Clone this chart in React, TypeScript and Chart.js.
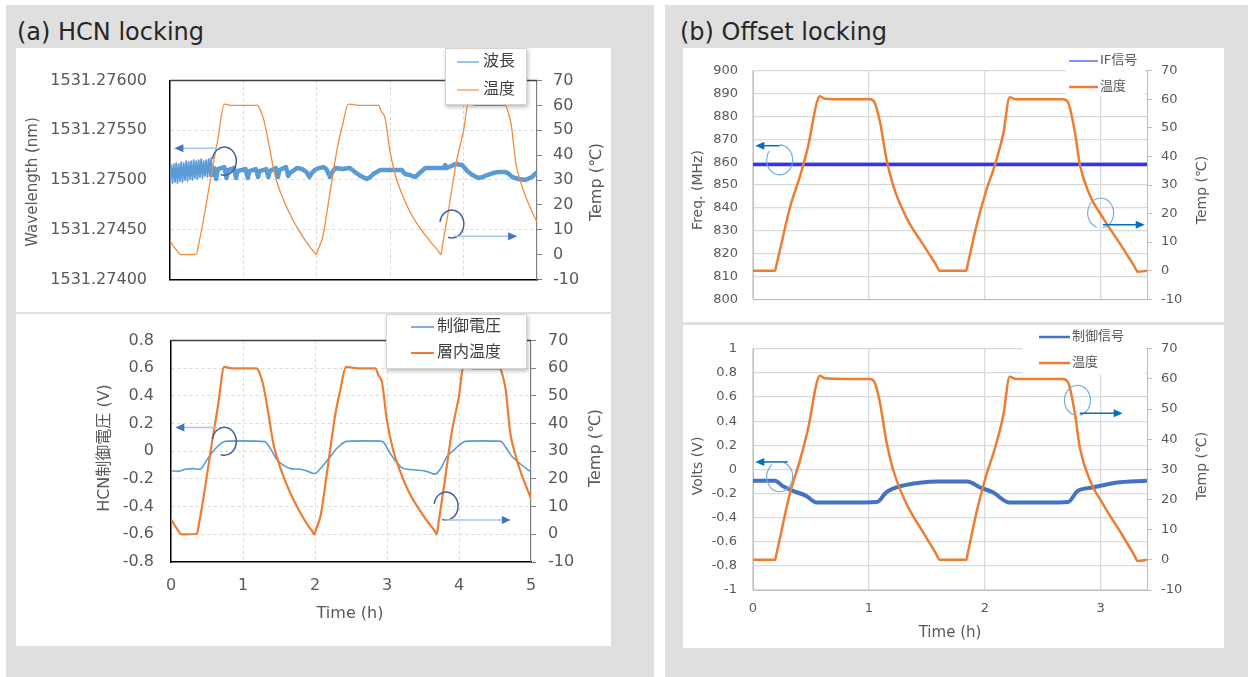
import React, { useEffect, useRef } from 'react';
import { Chart, registerables } from 'chart.js';

Chart.register(...registerables);

const FONT = "'DejaVu Sans', 'Noto Sans CJK JP', sans-serif";

// ================= (a) HCN locking =================
const hcnTimeTicks = [0, 1, 2, 3, 4, 5];
const wavelengthTicks = [1531.274, 1531.2745, 1531.275, 1531.2755, 1531.276];
const tempTicks = [-10, 0, 10, 20, 30, 40, 50, 60, 70];
const hcnVoltTicks = [-0.8, -0.6, -0.4, -0.2, 0, 0.2, 0.4, 0.6, 0.8];

const hcnTopLegend = ['波長', '温度'];
const hcnBottomLegend = ['制御電圧', '層内温度'];

const wavelengthTime = [
  0, 0.017, 0.034, 0.051, 0.068, 0.085, 0.102, 0.119, 0.136, 0.153, 0.17, 0.187, 0.204, 0.221, 0.238,
  0.255, 0.272, 0.289, 0.306, 0.323, 0.34, 0.357, 0.374, 0.391, 0.408, 0.425, 0.442, 0.459, 0.476,
  0.493, 0.51, 0.527, 0.544, 0.561, 0.578,
  0.6, 0.63, 0.65, 0.74, 0.77, 0.79, 0.87, 0.9, 0.92, 1.03, 1.06, 1.08, 1.17, 1.2, 1.22, 1.31, 1.34,
  1.36, 1.44, 1.47, 1.49, 1.58, 1.61, 1.63,
  1.73, 1.8, 1.86, 1.9, 1.93, 1.97, 2.03, 2.09, 2.13, 2.18, 2.22, 2.25, 2.35, 2.45, 2.52, 2.6, 2.68,
  2.73, 2.77, 2.86, 3.0, 3.16, 3.2, 3.27, 3.34, 3.4, 3.48, 3.6, 3.73, 3.75, 3.77, 3.89, 3.98, 4.05,
  4.12, 4.2, 4.26, 4.32, 4.4, 4.48, 4.57, 4.62, 4.66, 4.75, 4.84, 4.93, 5.0,
];
const wavelengthValues = [
  1531.275, 1531.27515, 1531.27497, 1531.27516, 1531.27498, 1531.27517, 1531.27497, 1531.27516,
  1531.27499, 1531.27518, 1531.27498, 1531.27517, 1531.275, 1531.27519, 1531.27499, 1531.27518,
  1531.27501, 1531.27519, 1531.275, 1531.2752, 1531.27502, 1531.27519, 1531.27501, 1531.2752,
  1531.27503, 1531.27521, 1531.27502, 1531.27519, 1531.27504, 1531.2752, 1531.27503, 1531.27521,
  1531.27504, 1531.27522, 1531.27503,
  1531.27512, 1531.27501, 1531.27511, 1531.27513, 1531.27502, 1531.2751, 1531.27512, 1531.27502,
  1531.27509, 1531.27511, 1531.27502, 1531.27509, 1531.27511, 1531.27503, 1531.27509, 1531.27511,
  1531.27503, 1531.27509, 1531.27512, 1531.27503, 1531.2751, 1531.27513, 1531.27504, 1531.27507,
  1531.27512, 1531.27511, 1531.27508, 1531.27503, 1531.27507, 1531.2751, 1531.27512, 1531.27513,
  1531.27511, 1531.27503, 1531.27509, 1531.27512, 1531.27511, 1531.27512, 1531.27508, 1531.27504,
  1531.27501, 1531.27503, 1531.27506, 1531.2751, 1531.2751, 1531.2751, 1531.27506, 1531.27505,
  1531.27503, 1531.27507, 1531.27512, 1531.27512, 1531.27512, 1531.27515, 1531.27512, 1531.27516,
  1531.27515, 1531.27509, 1531.27505, 1531.27502, 1531.27503, 1531.27505, 1531.27507, 1531.27508,
  1531.27508, 1531.27506, 1531.27503, 1531.27501, 1531.275, 1531.27503, 1531.27508,
];

const hcnTempTime = [
  0, 0.07, 0.15, 0.36, 0.39, 0.45, 0.55, 0.65, 0.74, 0.85, 1.0, 1.19, 1.24, 1.28, 1.35, 1.42, 1.47,
  1.56, 1.655, 1.75, 1.84, 1.92, 1.96, 1.99, 2.02, 2.08, 2.17, 2.28, 2.35, 2.43, 2.6, 2.84, 2.88, 2.93,
  3.0, 3.08, 3.18, 3.3, 3.46, 3.58, 3.66, 3.69, 3.72, 3.79, 3.9, 4.0, 4.06, 4.2, 4.57, 4.61, 4.65,
  4.71, 4.78, 4.85, 4.93, 5.0,
];
const hcnTempValues = [
  5.5, 2.5, 0, 0.2, 4, 13, 30, 46, 60.5, 60, 60, 60, 57.5, 54, 44, 33, 28, 21, 15, 10, 5.8, 2.5, 1.2,
  0, 2.2, 7, 23, 43, 52, 60.5, 60, 60, 57.5, 55, 41, 31, 23, 15.5, 8.5, 4, 1.3, 0, 5, 17, 37, 50,
  60.5, 60, 60, 57, 52, 37, 29, 23, 17.5, 13,
];

const hcnVoltTime = [
  0, 0.1, 0.2, 0.3, 0.4, 0.5, 0.6, 0.68, 0.75, 1.0, 1.3, 1.38, 1.47, 1.56, 1.66, 1.8, 1.9, 1.98, 2.03,
  2.1, 2.21, 2.3, 2.44, 2.7, 2.93, 3.05, 3.15, 3.23, 3.4, 3.55, 3.67, 3.75, 3.83, 3.95, 4.09, 4.3,
  4.58, 4.66, 4.74, 4.85, 5.0,
];
const hcnVoltValues = [
  -0.14, -0.145, -0.13, -0.125, -0.13, -0.06, 0.01, 0.05, 0.072, 0.075, 0.07, 0.02, -0.06, -0.1,
  -0.125, -0.13, -0.145, -0.16, -0.15, -0.11, -0.04, 0.02, 0.072, 0.075, 0.072, -0.02, -0.09, -0.125,
  -0.135, -0.145, -0.165, -0.12, -0.04, 0.02, 0.072, 0.075, 0.072, 0.02, -0.04, -0.09, -0.15,
];

// ================= (b) Offset locking =================
const offTimeTicks = [0, 1, 2, 3];
const freqTicks = [800, 810, 820, 830, 840, 850, 860, 870, 880, 890, 900];
const offVoltTicks = [-1, -0.8, -0.6, -0.4, -0.2, 0, 0.2, 0.4, 0.6, 0.8, 1];

const offTopLegend = ['IF信号', '温度'];
const offBottomLegend = ['制御信号', '温度'];

const offTempTime = [
  0, 0.19, 0.2, 0.233, 0.32, 0.405, 0.477, 0.55, 0.578, 0.62, 0.8, 1.01, 1.05, 1.095, 1.15, 1.21,
  1.325, 1.47, 1.58, 1.61, 1.84, 1.855, 1.93, 2.01, 2.09, 2.16, 2.215, 2.27, 2.5, 2.675, 2.72, 2.78,
  2.82, 2.905, 3.02, 3.19, 3.29, 3.32, 3.4,
];
const offTempValues = [
  0, 0, 1.5, 7.3, 22.3, 33, 43.8, 58.8, 61.1, 60.2, 60, 60, 58.8, 52.3, 39.5, 29.8, 18.5, 9, 2, 0, 0,
  2.5, 16, 27.7, 37.3, 48, 60.7, 60, 60, 60, 58.8, 48, 37.3, 26.6, 18.5, 8, 1.6, -0.4, 0,
];

const offIfTime = [0, 1, 2, 3, 3.4];
const offIfValues = [859, 859, 859, 859, 859];

const offCtrlTime = [
  0, 0.19, 0.26, 0.35, 0.46, 0.55, 0.8, 1.07, 1.15, 1.27, 1.44, 1.61, 1.85, 1.96, 2.07, 2.215, 2.5,
  2.72, 2.8, 2.93, 3.13, 3.4,
];
const offCtrlValues = [
  -0.095, -0.095, -0.14, -0.18, -0.22, -0.275, -0.275, -0.27, -0.19, -0.14, -0.11, -0.1, -0.1, -0.15,
  -0.19, -0.275, -0.275, -0.27, -0.18, -0.15, -0.11, -0.094,
];

// ================= helpers =================
const pts = (t: number[], v: number[]) => t.map((x, i) => ({ x, y: v[i] }));
const fmt1 = (v: number) => {
  const r = Math.round(v * 10) / 10;
  return r === 0 ? '0' : String(r);
};

function decorPlugin(d: any) {
  return {
    id: 'decor',
    beforeDatasetsDraw(chart: any) {
      if (!d.topBorder) return;
      const { ctx, chartArea: a } = chart;
      ctx.save();
      ctx.strokeStyle = d.topBorder;
      ctx.lineWidth = 1.5;
      ctx.beginPath();
      ctx.moveTo(a.left, a.top);
      ctx.lineTo(a.right, a.top);
      ctx.stroke();
      ctx.restore();
    },
    afterDraw(chart: any) {
      const ctx = chart.ctx;
      const sx = chart.scales.x;
      for (const an of d.anns) {
        const sy = chart.scales[an.axis];
        ctx.save();
        if (an.kind === 'circle') {
          const cx = sx.getPixelForValue(an.x);
          const cy = sy.getPixelForValue(an.y);
          ctx.strokeStyle = an.color;
          ctx.lineWidth = an.width;
          ctx.beginPath();
          ctx.ellipse(cx, cy, an.rx, an.ry, 0, an.a0 * Math.PI, an.a1 * Math.PI);
          ctx.stroke();
        } else {
          const x1 = sx.getPixelForValue(an.x1);
          const x2 = sx.getPixelForValue(an.x2);
          const y = sy.getPixelForValue(an.y);
          const dir = Math.sign(x2 - x1);
          ctx.strokeStyle = an.color;
          ctx.lineWidth = an.width;
          ctx.beginPath();
          ctx.moveTo(x1, y);
          ctx.lineTo(x2 - dir * 6, y);
          ctx.stroke();
          ctx.fillStyle = an.head;
          ctx.beginPath();
          ctx.moveTo(x2, y);
          ctx.lineTo(x2 - dir * 9, y - 4);
          ctx.lineTo(x2 - dir * 9, y + 4);
          ctx.closePath();
          ctx.fill();
        }
        ctx.restore();
      }
      const lg = d.legend;
      ctx.save();
      if (lg.box) {
        ctx.save();
        if (lg.box.shadow) {
          ctx.shadowColor = 'rgba(0,0,0,0.28)';
          ctx.shadowBlur = 4;
          ctx.shadowOffsetX = 1;
          ctx.shadowOffsetY = 2;
        }
        ctx.fillStyle = '#ffffff';
        ctx.fillRect(lg.box.x, lg.box.y, lg.box.w, lg.box.h);
        ctx.restore();
        if (lg.box.stroke) {
          ctx.strokeStyle = lg.box.stroke;
          ctx.lineWidth = 1;
          ctx.strokeRect(lg.box.x + 0.5, lg.box.y + 0.5, lg.box.w - 1, lg.box.h - 1);
        }
      }
      ctx.font = `${lg.size}px ${FONT}`;
      ctx.textBaseline = 'middle';
      ctx.textAlign = 'left';
      lg.items.forEach((it: any) => {
        ctx.strokeStyle = it.color;
        ctx.lineWidth = it.width;
        ctx.beginPath();
        ctx.moveTo(lg.x0, it.y);
        ctx.lineTo(lg.x1, it.y);
        ctx.stroke();
        ctx.fillStyle = lg.color;
        ctx.fillText(it.label, lg.tx, it.y);
      });
      ctx.restore();
      for (const t of d.titles) {
        ctx.save();
        ctx.translate(t.x, t.y);
        if (t.rot) ctx.rotate((t.rot * Math.PI) / 180);
        ctx.font = `${t.size}px ${FONT}`;
        ctx.fillStyle = '#595959';
        ctx.textAlign = 'center';
        ctx.textBaseline = 'middle';
        ctx.fillText(t.text, 0, 0);
        ctx.restore();
      }
    },
  };
}

function buildConfig(o: any) {
  const hcn = o.panel === 'hcn';
  const gridColor = (min: number, max: number) => (c: any) => {
    const v = c.tick ? c.tick.value : null;
    if (hcn && (v === min || v === max)) return 'rgba(0,0,0,0)';
    return '#d9d9d9';
  };
  const font = { family: FONT, size: o.fontSize };
  const tc = '#595959';
  const yMin = o.y.ticks[0];
  const yMax = o.y.ticks[o.y.ticks.length - 1];
  const y2Min = o.y2.ticks[0];
  const y2Max = o.y2.ticks[o.y2.ticks.length - 1];
  const sideColor = hcn ? '#7f7f7f' : '#bfbfbf';
  return {
    type: 'line',
    data: { datasets: o.datasets },
    options: {
      animation: false,
      responsive: false,
      maintainAspectRatio: false,
      layout: { padding: { top: o.padTop, left: 0, right: 0, bottom: 0 } },
      plugins: { legend: { display: false }, tooltip: { enabled: false } },
      elements: { point: { radius: 0 } },
      scales: {
        x: {
          type: 'linear',
          min: 0,
          max: o.x.max,
          afterBuildTicks: (s: any) => {
            s.ticks = o.x.ticks.map((v: number) => ({ value: v }));
          },
          afterFit: (s: any) => {
            s.height = o.x.height;
          },
          ticks: {
            display: o.x.labels,
            font,
            color: tc,
            padding: o.x.pad,
            autoSkip: false,
            maxRotation: 0,
            callback: (v: number) => String(v),
          },
          grid: { color: gridColor(0, o.x.max), lineWidth: hcn ? 1 : 1.3, drawTicks: false },
          border: { display: true, color: hcn ? '#000000' : '#bfbfbf', width: hcn ? 1.5 : 1, dash: hcn ? [3, 3] : [] },
        },
        y: {
          type: 'linear',
          position: 'left',
          min: yMin,
          max: yMax,
          afterBuildTicks: (s: any) => {
            s.ticks = o.y.ticks.map((v: number) => ({ value: v }));
          },
          afterFit: (s: any) => {
            s.width = o.y.width;
          },
          ticks: { font, color: tc, padding: o.y.pad, autoSkip: false, callback: o.y.fmt },
          grid: { color: gridColor(yMin, yMax), lineWidth: hcn ? 1 : 1.3, drawTicks: false },
          border: { display: true, color: hcn ? '#000000' : '#bfbfbf', width: hcn ? 1.5 : 1, dash: hcn ? [3, 3] : [] },
        },
        y2: {
          type: 'linear',
          position: 'right',
          min: y2Min,
          max: y2Max,
          afterBuildTicks: (s: any) => {
            s.ticks = o.y2.ticks.map((v: number) => ({ value: v }));
          },
          afterFit: (s: any) => {
            s.width = o.y2.width;
          },
          ticks: { font, color: tc, padding: o.y2.pad, autoSkip: false, callback: (v: number) => String(v) },
          grid: { drawOnChartArea: false, drawTicks: true, tickLength: 5, tickColor: sideColor, tickWidth: 1 },
          border: { display: true, color: sideColor, width: hcn ? 1.2 : 1 },
        },
      },
    },
    plugins: [decorPlugin(o.decor)],
  };
}

const leftCircle = (x: number, y: number, axis: string) => ({
  kind: 'circle', x, y, axis, rx: 12, ry: 14, a0: 1.05, a1: 2.6, color: '#3f5f9f', width: 1.5,
});
const leftArrow = (x1: number, x2: number, y: number, axis: string) => ({
  kind: 'arrow', x1, x2, y, axis, color: '#a9c4e8', head: '#4472c4', width: 1.5,
});
const rightCircle = (x: number, y: number, axis: string, a0: number, a1: number) => ({
  kind: 'circle', x, y, axis, rx: 13, ry: 15, a0, a1, color: '#6fa8dc', width: 1.1,
});
const rightArrow = (x1: number, x2: number, y: number, axis: string) => ({
  kind: 'arrow', x1, x2, y, axis, color: '#0070c0', head: '#0070c0', width: 1.5,
});

const lineDs = (label: string, t: number[], v: number[], axis: string, color: string, width: number, order: number, smooth: boolean, extra?: any) => ({
  label,
  data: pts(t, v),
  yAxisID: axis,
  borderColor: color,
  backgroundColor: color,
  borderWidth: width,
  pointRadius: 0,
  order,
  borderJoinStyle: 'round',
  cubicInterpolationMode: smooth ? 'monotone' : 'default',
  tension: 0,
  ...(extra || {}),
});

// thinner stroke for the fast early dither of the wavelength trace
const wavelengthSegment = {
  segment: { borderWidth: (c: any) => (c.p1.parsed.x <= 0.58 ? 1.8 : 4.5) },
};

const configA = () =>
  buildConfig({
    panel: 'hcn',
    fontSize: 16,
    padTop: 19,
    datasets: [
      lineDs(hcnTopLegend[0], wavelengthTime, wavelengthValues, 'y', '#5b9bd5', 4.5, 1, false, wavelengthSegment),
      lineDs(hcnTopLegend[1], hcnTempTime, hcnTempValues, 'y2', '#f28c3c', 1.3, 0, true),
    ],
    x: { max: 5, ticks: hcnTimeTicks, labels: false, height: 15, pad: 0 },
    y: { ticks: wavelengthTicks, width: 154, pad: 23, fmt: (v: number) => v.toFixed(5) },
    y2: { ticks: tempTicks, width: 74, pad: 11 },
    decor: {
      topBorder: '#404040',
      titles: [
        { text: 'Wavelength (nm)', x: 17, y: 134, rot: -90, size: 15 },
        { text: 'Temp (℃)', x: 581, y: 134, rot: -90, size: 16 },
      ],
      legend: {
        box: { x: 429, y: 0, w: 82, h: 57, shadow: true, stroke: '#d4d4d4' },
        items: [
          { label: hcnTopLegend[0], color: '#9dc3e6', width: 2, y: 14 },
          { label: hcnTopLegend[1], color: '#f4a56e', width: 1.5, y: 42 },
        ],
        x0: 441, x1: 463, tx: 467, size: 16, color: '#404040',
      },
      anns: [
        leftCircle(0.74, 1531.27519, 'y'),
        leftArrow(0.64, 0.06, 1531.27532, 'y'),
        leftCircle(3.84, 12.3, 'y2'),
        leftArrow(3.86, 4.73, 7.4, 'y2'),
      ],
    },
  });

const configB = () =>
  buildConfig({
    panel: 'hcn',
    fontSize: 16,
    padTop: 18,
    datasets: [
      lineDs(hcnBottomLegend[0], hcnVoltTime, hcnVoltValues, 'y', '#5b9bd5', 1.6, 1, true),
      lineDs(hcnBottomLegend[1], hcnTempTime, hcnTempValues, 'y2', '#ed7d31', 2.2, 0, true),
    ],
    x: { max: 5, ticks: hcnTimeTicks, labels: true, height: 84, pad: 14 },
    y: { ticks: hcnVoltTicks, width: 155, pad: 17, fmt: fmt1 },
    y2: { ticks: tempTicks, width: 80, pad: 12 },
    decor: {
      topBorder: '#404040',
      titles: [
        { text: 'HCN制御電圧 (V)', x: 89, y: 134, rot: -90, size: 16 },
        { text: 'Temp (℃)', x: 580, y: 134, rot: -90, size: 16 },
        { text: 'Time (h)', x: 334, y: 300, rot: 0, size: 16 },
      ],
      legend: {
        box: { x: 370, y: 0, w: 141, h: 55, shadow: true, stroke: '#d4d4d4' },
        items: [
          { label: hcnBottomLegend[0], color: '#7fb0e0', width: 2, y: 13 },
          { label: hcnBottomLegend[1], color: '#ed7d31', width: 2, y: 39 },
        ],
        x0: 395, x1: 418, tx: 421, size: 16, color: '#404040',
      },
      anns: [
        leftCircle(0.74, 0.072, 'y'),
        leftArrow(0.64, 0.06, 0.172, 'y'),
        leftCircle(3.82, 10.2, 'y2'),
        leftArrow(3.8, 4.72, 5.2, 'y2'),
      ],
    },
  });

const configC = () =>
  buildConfig({
    panel: 'off',
    fontSize: 13,
    padTop: 17,
    datasets: [
      lineDs(offTopLegend[0], offIfTime, offIfValues, 'y', '#3333ff', 3.5, 1, false),
      lineDs(offTopLegend[1], offTempTime, offTempValues, 'y2', '#ed7d31', 2.5, 0, true),
    ],
    x: { max: 3.4, ticks: offTimeTicks, labels: false, height: 8, pad: 0 },
    y: { ticks: freqTicks, width: 70, pad: 15, fmt: (v: number) => String(v) },
    y2: { ticks: tempTicks, width: 77, pad: 9 },
    decor: {
      titles: [
        { text: 'Freq. (MHz)', x: 15, y: 142, rot: -90, size: 14 },
        { text: 'Temp (℃)', x: 519, y: 142, rot: -90, size: 14 },
      ],
      legend: {
        box: { x: 383, y: 4, w: 79, h: 44, shadow: false },
        items: [
          { label: offTopLegend[0], color: '#8c8cff', width: 2, y: 13 },
          { label: offTopLegend[1], color: '#ed7d31', width: 2.5, y: 39 },
        ],
        x0: 386, x1: 415, tx: 417, size: 13, color: '#595959',
      },
      anns: [
        rightCircle(0.23, 861, 'y', 1.5, 3.2),
        rightArrow(0.23, 0.02, 867.2, 'y'),
        rightCircle(3.0, 20.2, 'y2', 0.6, 2.45),
        rightArrow(3.02, 3.38, 16.1, 'y2'),
      ],
    },
  });

const configD = () =>
  buildConfig({
    panel: 'off',
    fontSize: 13,
    padTop: 17,
    datasets: [
      lineDs(offBottomLegend[0], offCtrlTime, offCtrlValues, 'y', '#4472c4', 4, 1, true),
      lineDs(offBottomLegend[1], offTempTime, offTempValues, 'y2', '#ed7d31', 2.5, 0, true),
    ],
    x: { max: 3.4, ticks: offTimeTicks, labels: true, height: 58, pad: 11 },
    y: { ticks: offVoltTicks, width: 70, pad: 16, fmt: fmt1 },
    y2: { ticks: tempTicks, width: 77, pad: 9 },
    decor: {
      titles: [
        { text: 'Volts (V)', x: 15, y: 141, rot: -90, size: 14 },
        { text: 'Temp (℃)', x: 519, y: 141, rot: -90, size: 14 },
        { text: 'Time (h)', x: 267, y: 308, rot: 0, size: 15 },
      ],
      legend: {
        box: { x: 340, y: 3, w: 122, h: 47, shadow: false },
        items: [
          { label: offBottomLegend[0], color: '#4472c4', width: 2.5, y: 12 },
          { label: offBottomLegend[1], color: '#ed7d31', width: 2.5, y: 38 },
        ],
        x0: 356, x1: 387, tx: 389, size: 13, color: '#595959',
      },
      anns: [
        rightCircle(0.23, -0.06, 'y', 1.6, 3.3),
        rightArrow(0.3, 0.02, 0.062, 'y'),
        rightCircle(2.8, 52.9, 'y2', 0.6, 2.45),
        rightArrow(2.82, 3.19, 48.6, 'y2'),
      ],
    },
  });

function ChartBox(props: { left: number; top: number; width: number; height: number; make: () => any }) {
  const ref = useRef<HTMLCanvasElement>(null);
  useEffect(() => {
    const c = new Chart(ref.current as HTMLCanvasElement, props.make());
    return () => c.destroy();
  }, []);
  return (
    <canvas
      ref={ref}
      width={props.width}
      height={props.height}
      style={{ position: 'absolute', left: props.left, top: props.top, width: props.width, height: props.height, background: '#ffffff' }}
    />
  );
}

export default function App() {
  const gray = '#dfdfdf';
  const title = { position: 'absolute' as const, top: 20, font: `24px ${FONT}`, lineHeight: '24px', color: '#262626', whiteSpace: 'nowrap' as const };
  return (
    <div style={{ position: 'absolute', left: 0, top: 0, width: 1252, height: 677, background: '#ffffff', overflow: 'hidden' }}>
      <div style={{ position: 'absolute', left: 6, top: 5, width: 648, height: 672, background: gray }} />
      <div style={{ position: 'absolute', left: 665, top: 5, width: 583, height: 672, background: gray }} />
      <div style={{ ...title, left: 17 }}>(a) HCN locking</div>
      <div style={{ ...title, left: 680 }}>(b) Offset locking</div>
      <ChartBox left={16} top={48} width={595} height={264} make={configA} />
      <ChartBox left={16} top={314} width={595} height={332} make={configB} />
      <ChartBox left={683} top={48} width={541} height={274} make={configC} />
      <ChartBox left={683} top={325} width={541} height={323} make={configD} />
    </div>
  );
}
